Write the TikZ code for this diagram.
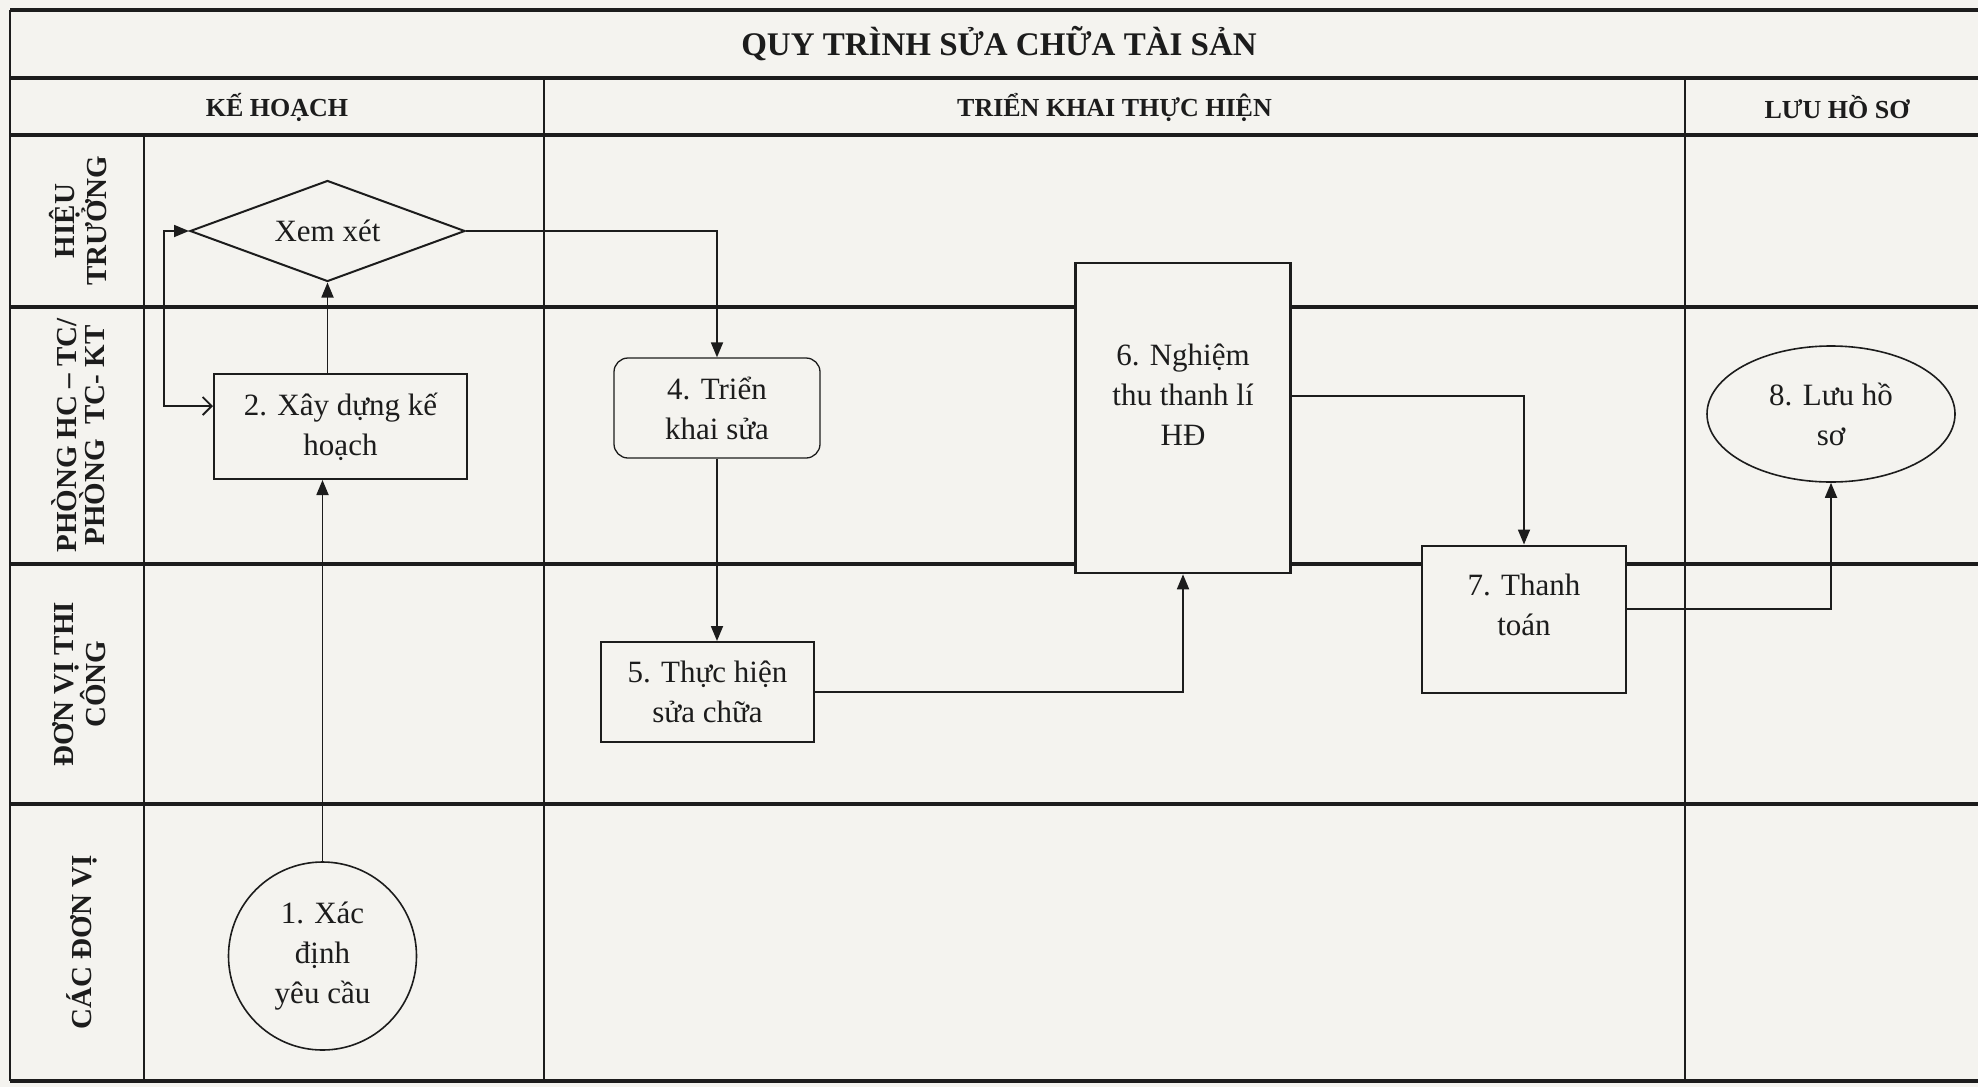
\documentclass[tikz,border=0pt]{standalone}
\usepackage{fontspec}
\setmainfont{Liberation Serif}
\usetikzlibrary{arrows.meta,shapes.geometric,calc}
\definecolor{paper}{RGB}{244,243,239}
\definecolor{ink}{RGB}{28,28,28}
\begin{document}
\begin{tikzpicture}[x=1pt,y=-1pt,
  hline/.style={line width=3.5pt,draw=ink},
  vline/.style={line width=2.6pt,draw=ink},
  txt/.style={font=\fontsize{31}{40}\selectfont,text=ink,align=center},
  proc/.style={draw=ink,line width=2pt,fill=paper,align=center,inner sep=0pt,font=\fontsize{31}{40}\selectfont,text=ink},
  conn/.style={draw=ink,line width=1.8pt,-{Triangle[length=15pt,width=12pt]}},
  lanelab/.style={rotate=90,align=center,text=ink,font=\bfseries\fontsize{29}{28}\selectfont},
  headlab/.style={text=ink,font=\bfseries\fontsize{26}{30}\selectfont},
]
\fill[paper] (0,0) rectangle (1978,1087);
\useasboundingbox (0,0) rectangle (1978,1087);

% grid
\foreach \yy in {10,78,135,307,564,804,1081}
  \draw[hline] (10,\yy) -- (1978,\yy);
\draw[vline] (10,10) -- (10,1081);
\draw[vline] (144,135) -- (144,1081);
\draw[vline] (544,78) -- (544,1081);
\draw[vline] (1685,78) -- (1685,1081);

% titles
\node[text=ink,font=\bfseries\fontsize{33}{36}\selectfont] (title) at (999,44) {QUY TRÌNH SỬA CHỮA TÀI SẢN};
\node[headlab] (h1) at (277,107) {KẾ HOẠCH};
\node[headlab] (h2) at (1114.5,107) {TRIỂN KHAI THỰC HIỆN};
\node[headlab] (h3) at (1837,107) {LƯU HỒ SƠ};

% lane labels
\node[lanelab] (l1) at (78,221) {HIỆU\\TRƯỞNG};
\node[lanelab] (l2) at (78,435.5) {PHÒNG HC – TC/\\PHÒNG\ \ TC- KT};
\node[lanelab] (l3) at (79,684) {ĐƠN VỊ THI\\CÔNG};
\node[lanelab] (l4) at (82,942.5) {CÁC ĐƠN VỊ};

% process nodes
\node[proc,diamond,shape aspect=2.72,inner sep=0pt,minimum width=275pt,minimum height=101pt] (d) at (327.5,231) {Xem xét};
\node[proc,minimum width=253pt,minimum height=105pt] (b2) at (340.5,426.5) {2. Xây dựng kế\\hoạch};
\node[proc,circle,line width=1.6pt,minimum size=188pt] (c1) at (322.5,956) {1. Xác\\định\\yêu cầu};
\node[proc,rounded corners=14pt,line width=1.3pt,minimum width=206pt,minimum height=100pt] (b4) at (717,408) {4. Triển\\khai sửa};
\node[proc,minimum width=213pt,minimum height=100pt] (b5) at (707.5,692) {5. Thực hiện\\sửa chữa};
\node[proc,line width=2.6pt,minimum width=215pt,minimum height=310pt,
  label={[txt,yshift=23pt]center:{6. Nghiệm\\thu thanh lí\\HĐ}}] (b6) at (1183,418) {};
\node[proc,minimum width=204pt,minimum height=147pt,
  label={[txt,yshift=14pt]center:{7. Thanh\\toán}}] (b7) at (1524,619) {};
\node[proc,ellipse,line width=1.6pt,minimum width=248pt,minimum height=136pt] (e8) at (1831,414) {8. Lưu hồ\\sơ};

% connectors
\coordinate (lp) at (164,406);
\draw[conn] (c1.north) -- (c1.north |- b2.south);
\draw[conn] (d.south |- b2.north) -- (d.south);
\draw[draw=ink,line width=1.8pt,{Straight Barb[length=9pt,width=18pt]}-{Triangle[length=15pt,width=12pt]}]
  (b2.west |- lp) -- (lp) |- (d.west);
\draw[conn] (d.east) -| (b4.north);
\draw[conn] (b4.south) -- (b4.south |- b5.north);
\draw[conn] (b5.east) -| (b6.south);
\draw[conn] ([yshift=22pt]b6.east) -| (b7.north);
\draw[conn] ([yshift=10pt]b7.east) -| (e8.south);
\end{tikzpicture}
\end{document}
